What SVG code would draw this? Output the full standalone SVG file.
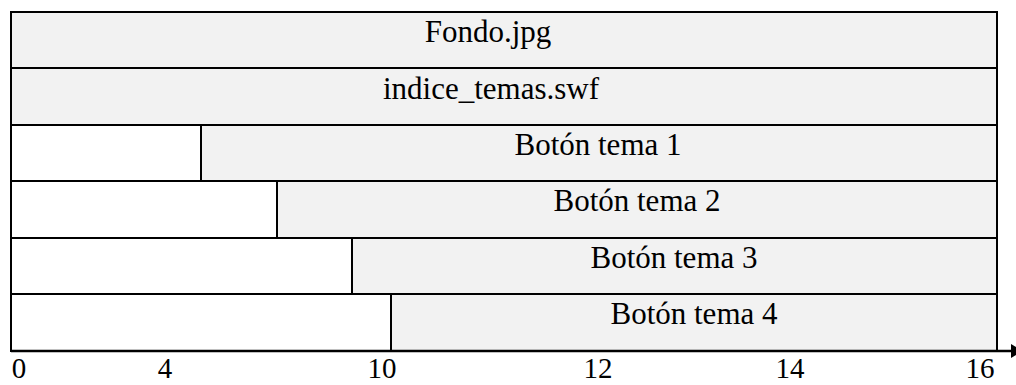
<svg xmlns="http://www.w3.org/2000/svg" width="1016" height="385" viewBox="0 0 1016 385">
<style>
.box{fill:#f2f2f2;stroke:#000;stroke-width:2}
.blank{fill:#fff;stroke:#000;stroke-width:2}
text{fill:#000;text-anchor:middle}
</style>
<defs>
<marker id="arr" viewBox="0 0 12 14" refX="12" refY="7" markerWidth="4.8" markerHeight="5.6" orient="auto" markerUnits="strokeWidth">
<path d="M0,0 L12,7 L0,14 Z" fill="#000"/>
</marker>
</defs>
<g font-family="'Liberation Serif', 'Times New Roman', 'DejaVu Serif', serif" font-size="31">
<g id="fondo"><rect class="box" x="11" y="12" width="986" height="56"/><text x="488" y="42">Fondo.jpg</text></g>
<g id="indice"><rect class="box" x="11" y="68" width="986" height="57"/><text x="491" y="99">indice_temas.swf</text></g>
<g id="tema1"><rect class="blank" x="11" y="125" width="190" height="56"/><rect class="box" x="201" y="125" width="796" height="56"/><text x="598" y="155">Botón tema 1</text></g>
<g id="tema2"><rect class="blank" x="11" y="181" width="266" height="57"/><rect class="box" x="277" y="181" width="720" height="57"/><text x="637" y="211">Botón tema 2</text></g>
<g id="tema3"><rect class="blank" x="11" y="238" width="341" height="56"/><rect class="box" x="352" y="238" width="645" height="56"/><text x="674" y="268">Botón tema 3</text></g>
<g id="tema4"><rect class="blank" x="11" y="294" width="380" height="57"/><rect class="box" x="391" y="294" width="606" height="57"/><text x="694" y="324">Botón tema 4</text></g>
</g>
<g id="connectors"><line x1="11" y1="351" x2="1023" y2="351" stroke="#000" stroke-width="2.5" marker-end="url(#arr)"/></g>
<g id="axis" font-family="'Liberation Serif', 'Times New Roman', 'DejaVu Serif', serif" font-size="29">
<text x="19" y="378">0</text>
<text x="165" y="378">4</text>
<text x="382" y="378">10</text>
<text x="598" y="378">12</text>
<text x="790" y="378">14</text>
<text x="980" y="378">16</text>
</g>
</svg>
